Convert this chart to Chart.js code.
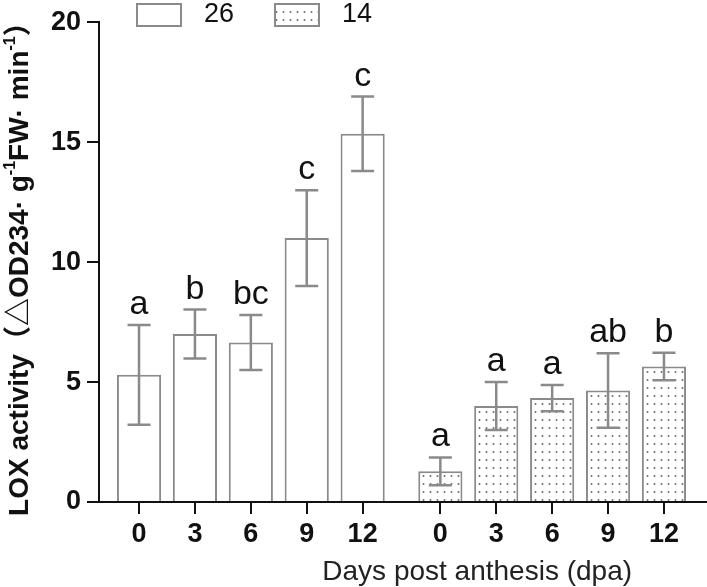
<!DOCTYPE html>
<html>
<head>
<meta charset="utf-8">
<script src="https://cdn.jsdelivr.net/npm/chart.js@4.4.1/dist/chart.umd.min.js"></script>
<style>
html, body { margin: 0; padding: 0; background: #fff; }
#wrap { width: 707px; height: 587px; }
</style>
</head>
<body>
<div id="wrap"><canvas id="chart" width="707" height="587"></canvas></div>
<script>
// ---- values ----
var days = ['0', '3', '6', '9', '12'];
var seriesNames = ['26', '14'];
var lox26 = [5.3, 7.0, 6.65, 11.0, 15.35];
var err26 = [2.08, 1.02, 1.15, 2.0, 1.55];
var sig26 = ['a', 'b', 'bc', 'c', 'c'];
var lox14 = [1.28, 4.0, 4.33, 4.65, 5.65];
var err14 = [0.58, 1.0, 0.55, 1.55, 0.57];
var sig14 = ['a', 'a', 'a', 'ab', 'b'];
var yTicks = [0, 5, 10, 15, 20];

var GROUP_GAP = 0.39;   // extra space between the two temperature groups
var GREY = '#8a8a8a';
var FONT = "'Liberation Sans', Arial, 'Noto Sans CJK SC', sans-serif";

// position of bar i of group g on the linear x scale
function slot(g, i) {
    return g * (days.length + GROUP_GAP) + i;
}

var allSlots = [];
var slotLabel = {};
[0, 1].forEach(function (g) {
    days.forEach(function (d, i) {
        allSlots.push(slot(g, i));
        slotLabel[slot(g, i)] = d;
    });
});

// dotted fill for the 14 series
function dotPattern() {
    var c = document.createElement('canvas');
    c.width = 7; c.height = 8;
    var cx = c.getContext('2d');
    cx.fillStyle = '#fff';
    cx.fillRect(0, 0, 7, 8);
    cx.fillStyle = '#6e6e6e';
    cx.beginPath();
    cx.arc(3.5, 4, 1, 0, Math.PI * 2);
    cx.fill();
    return cx.createPattern(c, 'repeat');
}
var dots = dotPattern();

function toPoints(g, vals) {
    return vals.map(function (v, i) { return {x: slot(g, i), y: v}; });
}

var errs = [err26, err14];
var sigs = [sig26, sig14];

// error bars + significance letters
var errorBarPlugin = {
    id: 'errorBars',
    afterDatasetsDraw: function (chart) {
        var ctx = chart.ctx;
        var ys = chart.scales.y;
        ctx.save();
        chart.data.datasets.forEach(function (ds, di) {
            var meta = chart.getDatasetMeta(di);
            meta.data.forEach(function (bar, i) {
                var v = ds.data[i].y, e = errs[di][i];
                var top = ys.getPixelForValue(v + e);
                var bot = ys.getPixelForValue(v - e);
                ctx.strokeStyle = GREY;
                ctx.lineWidth = 2.5;
                ctx.beginPath();
                ctx.moveTo(bar.x, top); ctx.lineTo(bar.x, bot);
                ctx.moveTo(bar.x - 11.5, top); ctx.lineTo(bar.x + 11.5, top);
                ctx.moveTo(bar.x - 11.5, bot); ctx.lineTo(bar.x + 11.5, bot);
                ctx.stroke();

                ctx.fillStyle = '#111';
                ctx.font = '34px ' + FONT;
                ctx.textAlign = 'center';
                ctx.textBaseline = 'alphabetic';
                ctx.fillText(sigs[di][i], bar.x, top - 11);
            });
        });
        ctx.restore();
    }
};

// axis titles and legend drawn by hand (superscripts, offset title)
var decorPlugin = {
    id: 'decor',
    afterDraw: function (chart) {
        var ctx = chart.ctx;
        var area = chart.chartArea;
        ctx.save();

        // y title, rotated, with superscript -1
        var parts = [
            ['LOX activity（△OD234· g', false],
            ['-1', true],
            ['FW· min', false],
            ['-1', true],
            ['）', false]
        ];
        var mainFont = 'bold 28px ' + FONT;
        var supFont = 'bold 16px ' + FONT;
        var total = 0;
        parts.forEach(function (p) {
            ctx.font = p[1] ? supFont : mainFont;
            p.push(ctx.measureText(p[0]).width);
            total += p[2];
        });
        ctx.translate(28, (area.top + area.bottom) / 2);
        ctx.rotate(-Math.PI / 2);
        ctx.fillStyle = '#111';
        ctx.textBaseline = 'alphabetic';
        ctx.textAlign = 'left';
        var x = -total / 2;
        parts.forEach(function (p) {
            ctx.font = p[1] ? supFont : mainFont;
            ctx.fillText(p[0], x, p[1] ? -13 : 0);
            x += p[2];
        });
        ctx.setTransform(1, 0, 0, 1, 0, 0);

        // x title
        ctx.font = '28px ' + FONT;
        ctx.fillStyle = '#222';
        ctx.textAlign = 'center';
        ctx.fillText('Days post anthesis (dpa)', area.left + area.width * 0.622, 580);

        // legend
        var boxX = [area.left + 38, area.left + 176];
        chart.data.datasets.forEach(function (ds, di) {
            ctx.fillStyle = ds.backgroundColor;
            ctx.fillRect(boxX[di], 4, 44, 22);
            ctx.strokeStyle = GREY;
            ctx.lineWidth = 2;
            ctx.strokeRect(boxX[di], 4, 44, 22);
            ctx.fillStyle = '#111';
            ctx.font = '27px ' + FONT;
            ctx.textAlign = 'left';
            ctx.textBaseline = 'middle';
            ctx.fillText(ds.label, boxX[di] + 67, 15);
        });
        ctx.restore();
    }
};

new Chart(document.getElementById('chart'), {
    type: 'bar',
    data: {
        datasets: [
            {
                label: seriesNames[0],
                data: toPoints(0, lox26),
                backgroundColor: '#fff',
                borderColor: GREY,
                borderWidth: 2
            },
            {
                label: seriesNames[1],
                data: toPoints(1, lox14),
                backgroundColor: dots,
                borderColor: GREY,
                borderWidth: 2
            }
        ]
    },
    options: {
        responsive: false,
        animation: false,
        grouped: false,
        barPercentage: 0.79,
        categoryPercentage: 1.0,
        layout: {padding: {top: 16, right: 0, left: 0, bottom: 0}},
        plugins: {
            legend: {display: false},
            title: {display: false},
            tooltip: {enabled: false}
        },
        scales: {
            x: {
                type: 'linear',
                offset: false,
                min: -0.716,
                max: 10.16,
                afterBuildTicks: function (scale) {
                    scale.ticks = allSlots.map(function (v) { return {value: v}; });
                },
                afterFit: function (scale) { scale.height = 85; },
                ticks: {
                    autoSkip: false,
                    maxRotation: 0,
                    padding: 4,
                    color: '#111',
                    font: {family: FONT, size: 27, weight: 'bold'},
                    callback: function (v) { return slotLabel[v]; }
                },
                grid: {
                    offset: false,
                    drawOnChartArea: false,
                    color: '#111',
                    lineWidth: 2,
                    tickLength: 12
                },
                border: {display: true, color: '#111', width: 2}
            },
            y: {
                min: 0,
                max: 20,
                afterBuildTicks: function (scale) {
                    scale.ticks = yTicks.map(function (v) { return {value: v}; });
                },
                afterFit: function (scale) { scale.width = 99; },
                ticks: {
                    padding: 6,
                    color: '#111',
                    font: {family: FONT, size: 27, weight: 'bold'}
                },
                grid: {
                    drawOnChartArea: false,
                    color: '#111',
                    lineWidth: 2,
                    tickLength: 12
                },
                border: {display: true, color: '#111', width: 2}
            }
        }
    },
    plugins: [errorBarPlugin, decorPlugin]
});
</script>
</body>
</html>
